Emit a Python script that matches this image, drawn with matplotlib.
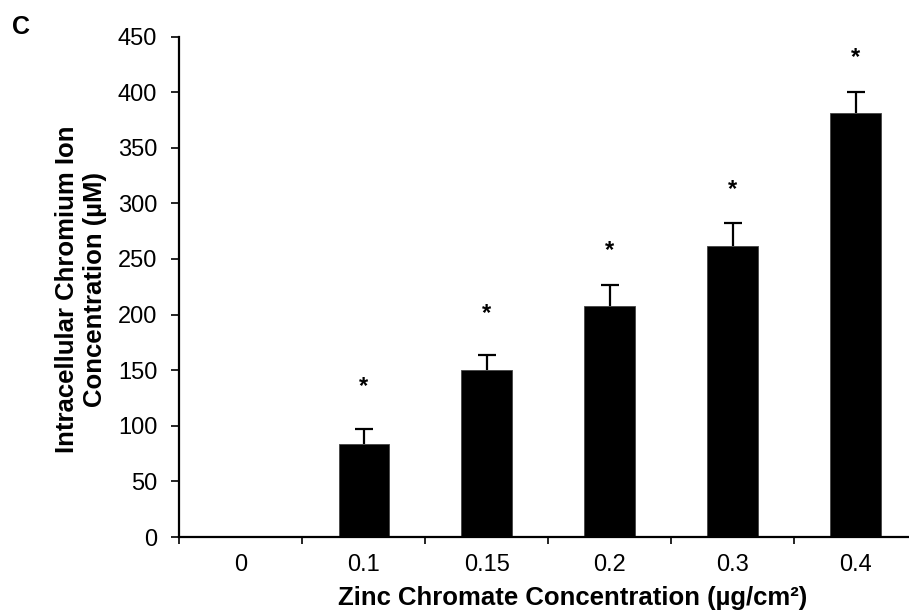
import numpy as np
import matplotlib
matplotlib.use("Agg")
import matplotlib.pyplot as plt

plt.rcParams['font.family'] = ['Liberation Sans', 'DejaVu Sans']

# data
conc = ['0', '0.1', '0.15', '0.2', '0.3', '0.4']
means = np.array([0, 84, 150.5, 207.5, 261.5, 381])
errs = np.array([0, 13, 13, 19, 21, 19])
sig = ['', '*', '*', '*', '*', '*']
star_y = [0, 135, 201, 258, 312, 431]

fig = plt.figure(figsize=(9.09, 6.15), dpi=100)
ax = fig.add_axes([179.3 / 909, 78 / 615, 737.7 / 909, 500.5 / 615])

x = np.arange(len(conc))
ax.bar(x, means, width=0.41, color='black', edgecolor='#444444', linewidth=0.6, zorder=2)
# upper error bars only
has = errs > 0
ax.vlines(x[has], means[has], means[has] + errs[has], color='black', linewidth=1.6, zorder=3)
ax.plot(x[has], means[has] + errs[has], ls='none', marker='_', ms=13, mew=1.6,
        color='black', zorder=3)

for xi, s, sy in zip(x, sig, star_y):
    if s:
        ax.text(xi, sy, s, ha='center', va='center', fontsize=17, fontweight='bold')

ax.set_xlim(-0.5, 5.5)
ax.set_ylim(0, 450)
ax.set_yticks(np.arange(0, 451, 50))
ax.tick_params(axis='y', labelsize=17, length=5.8, width=1.2, pad=10, direction='out')

ax.set_xticks(x)
ax.set_xticklabels(conc)
ax.set_xticks(np.arange(-0.5, 5.6, 1), minor=True)
ax.tick_params(axis='x', which='major', length=0, labelsize=17, pad=12)
ax.tick_params(axis='x', which='minor', length=5, width=1.2, direction='out')

for sp in ['top', 'right']:
    ax.spines[sp].set_visible(False)
for sp in ['left', 'bottom']:
    ax.spines[sp].set_linewidth(1.6)

ax.set_xlabel('Zinc Chromate Concentration (µg/cm²)', fontsize=18.5, fontweight='bold',
              va='center')
ax.xaxis.set_label_coords((573 - 179.3) / 737.7, (537 - 598) / 500.5)
ax.set_ylabel('Intracellular Chromium Ion\nConcentration (µM)', fontsize=18.5,
              fontweight='bold', linespacing=1.2, va='center')
ax.yaxis.set_label_coords((81 - 179.3) / 737.7, 0.495)

fig.text(12 / 909, 1 - 27 / 615, 'C', fontsize=18, fontweight='bold', va='center')

fig.savefig('out.png', dpi=100)
